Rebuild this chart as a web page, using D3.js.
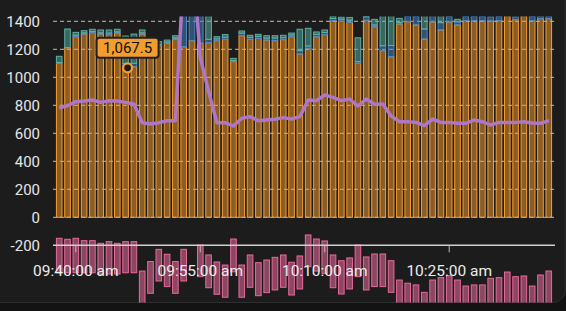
<!DOCTYPE html>
<html>
<head>
<meta charset="utf-8">
<script src="https://cdn.jsdelivr.net/npm/d3@7"></script>
<style>
  html, body { margin: 0; padding: 0; background: #131313; }
  svg { display: block; font-family: Roboto, "Noto Sans", sans-serif; }
</style>
</head>
<body>
<svg width="566" height="311"></svg>
<script>
// minute buckets 09:38 .. 10:37
const startTime = new Date(2024, 0, 1, 9, 38);
const barCount = 60;

// stacked series (orange base, blue, teal on top)
const orangeVals = [1100, 1211, 1290, 1309, 1319, 1309, 1305, 1316, 1067.5, 1075,
  1309, 1200, 1225, 1243, 1273, 1219, 1262, 1243, 1247, 1262,
  1271, 1112, 1297, 1271, 1278, 1266, 1262, 1269, 1290, 1166,
  1207, 1290, 1305, 1405, 1400, 1393, 1100, 1407, 1361, 1190,
  1147, 1381, 1397, 1374, 1274, 1395, 1338, 1395, 1374, 1405,
  1405, 1405, 1402, 1405, 1440, 1412, 1440, 1405, 1419, 1419];
const blueVals = [5, 0, 10, 8, 8, 8, 10, 8, 30, 25,
  8, 10, 8, 8, 8, 300, 300, 250, 24, 12,
  15, 8, 18, 14, 14, 14, 18, 14, 12, 24,
  16, 16, 15, 15, 15, 15, 12, 25, 12, 35,
  80, 10, 40, 60, 71, 45, 52, 40, 22, 30,
  30, 30, 30, 30, 0, 20, 0, 30, 20, 20];
const tealVals = [45, 134, 21, 16, 16, 21, 23, 19, 197, 209,
  21, 50, 22, 15, 16, 0, 0, 0, 200, 16,
  19, 15, 16, 15, 15, 17, 17, 17, 14, 153,
  127, 18, 18, 15, 15, 20, 170, 5, 41, 250,
  250, 30, 0, 0, 150, 0, 100, 0, 18, 0,
  0, 0, 0, 0, 0, 0, 0, 0, 0, 0];

// purple line
const lineVals = [783, 797, 826, 831, 838, 821, 833, 831, 821, 809,
  676, 666, 676, 690, 690, 1750, 1900, 1140, 900, 676,
  676, 652, 707, 719, 690, 695, 700, 712, 702, 719,
  838, 833, 874, 857, 833, 845, 795, 845, 807, 809,
  724, 683, 683, 678, 655, 702, 678, 678, 671, 671,
  695, 683, 659, 678, 678, 678, 683, 674, 671, 690];

// pink floating bars (upper / lower edge), null = no bar
const pinkTop = [-150, -157, -150, -167, -167, -186, -174, -186, -174, -174,
  -384, -316, -229, -264, -316, -229, null, -198, -269, -319,
  -341, -155, -341, -269, -324, -305, -286, -269, -321, -276,
  -126, -155, -169, -269, -310, -290, -198, -283, -262, -262,
  -310, -448, -471, -483, -536, -448, -431, -417, -448, -491,
  -483, -483, -436, -431, -391, -424, -419, -491, -412, -384];
const pinkBottom = [-396, -396, -396, -396, -396, -405, -405, -405, -396, -396,
  -620, -543, -455, -495, -543, -455, null, -424, -503, -550,
  -571, -389, -571, -500, -560, -538, -519, -500, -555, -512,
  -353, -384, -400, -503, -548, -512, -424, -519, -495, -495,
  -536, -680, -700, -710, -760, -680, -660, -650, -680, -720,
  -710, -710, -665, -660, -620, -655, -650, -720, -640, -615];

const yTicks = [-200, 0, 200, 400, 600, 800, 1000, 1200, 1400];
const xTickTimes = ["09:40", "09:55", "10:10", "10:25"];
const tooltipIndex = 8;

const colors = {
  orange: "#f99d30",
  blue: "#4a88c4",
  teal: "#5cb0a4",
  pink: "#e8699a",
  purple: "#ad76c6"
};

const times = d3.range(barCount).map(i => d3.timeMinute.offset(startTime, i));
const rows = times.map((t, i) => ({
  time: t, orange: orangeVals[i], blue: blueVals[i], teal: tealVals[i],
  line: lineVals[i], pTop: pinkTop[i], pBot: pinkBottom[i]
}));

const svg = d3.select("svg");

// card
svg.append("rect")
  .attr("x", -20).attr("y", -20)
  .attr("width", 585).attr("height", 322.5)
  .attr("rx", 12)
  .attr("fill", "#1c1c1c")
  .attr("stroke", "#2e2e2e");

const x = d3.scaleTime()
  .domain([d3.timeSecond.offset(startTime, -45), d3.timeSecond.offset(times[barCount - 1], 45)])
  .range([53, 555]);
const y = d3.scaleLinear().domain([-200, 1400]).range([245.3, 21.3]);

svg.append("clipPath").attr("id", "plot")
  .append("rect").attr("x", 50).attr("y", 16.5).attr("width", 510).attr("height", 286);

// grid
svg.append("g").selectAll("line")
  .data(yTicks.filter(d => d !== -200))
  .enter().append("line")
  .attr("x1", 53).attr("x2", 555)
  .attr("y1", d => y(d)).attr("y2", d => y(d))
  .attr("stroke", "#d8d8d8")
  .attr("stroke-opacity", 0.85)
  .attr("stroke-dasharray", "4,3");

// y labels
svg.append("g").selectAll("text")
  .data(yTicks)
  .enter().append("text")
  .attr("x", 40)
  .attr("y", d => y(d))
  .attr("dy", "0.36em")
  .attr("text-anchor", "end")
  .attr("fill", "#e6e6e6")
  .attr("font-size", 15)
  .text(d => d);

const plot = svg.append("g").attr("clip-path", "url(#plot)");

const series = d3.stack().keys(["orange", "blue", "teal"])(rows);
const bw = 5.6;

plot.selectAll("g.series")
  .data(series)
  .enter().append("g")
  .attr("class", "series")
  .each(function (s) {
    d3.select(this).selectAll("rect")
      .data(s.filter(d => d[1] > d[0]))
      .enter().append("rect")
      .attr("x", d => x(d.data.time) - bw / 2)
      .attr("width", bw)
      .attr("y", d => y(d[1]))
      .attr("height", d => y(d[0]) - y(d[1]))
      .attr("fill", colors[s.key])
      .attr("fill-opacity", 0.5)
      .attr("stroke", colors[s.key])
      .attr("stroke-width", 1);
  });

// pink bars
plot.append("g").selectAll("rect")
  .data(rows.filter(d => d.pTop !== null))
  .enter().append("rect")
  .attr("x", d => x(d.time) - bw / 2)
  .attr("width", bw)
  .attr("y", d => y(d.pTop))
  .attr("height", d => y(d.pBot) - y(d.pTop))
  .attr("fill", colors.pink)
  .attr("fill-opacity", 0.55)
  .attr("stroke", colors.pink)
  .attr("stroke-width", 1);

// purple line
plot.append("path")
  .datum(rows)
  .attr("fill", "none")
  .attr("stroke", colors.purple)
  .attr("stroke-width", 3.5)
  .attr("stroke-linejoin", "round")
  .attr("d", d3.line().x(d => x(d.time)).y(d => y(d.line)));

// x axis line at -200
svg.append("line")
  .attr("x1", 53).attr("x2", 555)
  .attr("y1", y(-200)).attr("y2", y(-200))
  .attr("stroke", "#cfcfcf").attr("stroke-width", 1.5);

const parseHM = d3.timeParse("%H:%M");
const tickDates = xTickTimes.map(s => {
  const p = parseHM(s);
  return new Date(2024, 0, 1, p.getHours(), p.getMinutes());
});
const fmt = d3.timeFormat("%I:%M:%S");

const xt = svg.append("g").selectAll("g")
  .data(tickDates)
  .enter().append("g")
  .attr("transform", d => "translate(" + x(d) + ",0)");
xt.append("line")
  .attr("y1", y(-200)).attr("y2", y(-200) + 7)
  .attr("stroke", "#bdbdbd");
xt.append("text")
  .attr("y", 276)
  .attr("text-anchor", "middle")
  .attr("fill", "#ececec")
  .attr("font-size", 15.5)
  .text(d => fmt(d) + " am");

// tooltip marker + label
const tip = rows[tooltipIndex];
const tx = x(tip.time) + 2;
const ty = y(tip.orange);
svg.append("circle")
  .attr("cx", tx).attr("cy", ty).attr("r", 4.5)
  .attr("fill", "#1c1c1c")
  .attr("stroke", colors.orange)
  .attr("stroke-width", 2.2);

const tipG = svg.append("g").attr("transform", "translate(" + tx + "," + (ty - 20) + ")");
tipG.append("rect")
  .attr("x", -31).attr("y", -10)
  .attr("width", 62).attr("height", 20)
  .attr("rx", 3)
  .attr("fill", "#f49d2f")
  .attr("stroke", "#202020")
  .attr("stroke-width", 2);
tipG.append("text")
  .attr("text-anchor", "middle")
  .attr("dy", "0.36em")
  .attr("fill", "#111")
  .attr("font-size", 15)
  .text(d3.format(",.1f")(tip.orange));
</script>
</body>
</html>
